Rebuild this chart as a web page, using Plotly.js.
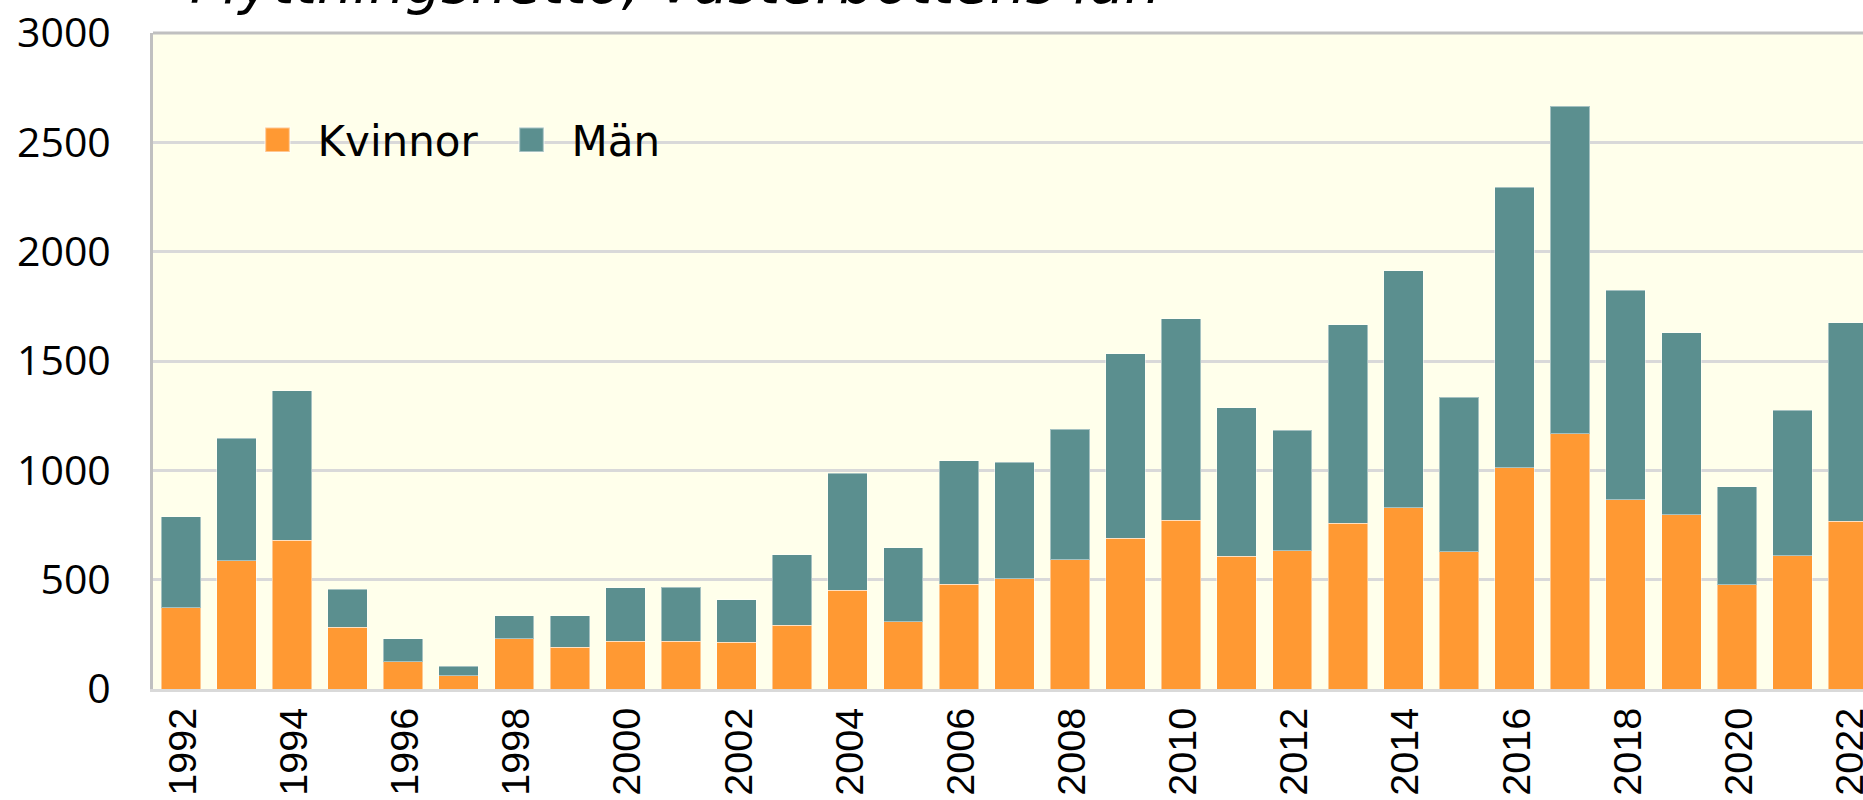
<!DOCTYPE html>
<html>
<head>
<meta charset="utf-8">
<script src="https://cdn.plot.ly/plotly-3.0.1.min.js"></script>
<style>
html,body{margin:0;padding:0;background:#fff;overflow:hidden;}
#chart{width:1863px;height:800px;}
</style>
</head>
<body>
<div id="chart"></div>
<script>
const years = [1992,1993,1994,1995,1996,1997,1998,1999,2000,2001,2002,2003,2004,2005,2006,2007,2008,2009,2010,2011,2012,2013,2014,2015,2016,2017,2018,2019,2020,2021,2022];
const kvinnor = [372,586,681,282,124,60,229,191,219,218,213,292,451,308,480,504,591,690,772,606,632,757,829,627,1012,1168,866,798,476,610,767];
const man = [415,561,683,174,105,44,107,145,243,248,196,321,536,337,563,533,598,843,922,680,551,909,1083,708,1282,1496,958,832,450,664,909];
const tickYears = [1992,1994,1996,1998,2000,2002,2004,2006,2008,2010,2012,2014,2016,2018,2020,2022];
const tickLabels = tickYears.map(String);
const seriesNames = ['Kvinnor','Män'];
const titleText = 'Flyttningsnetto, Västerbottens län';

const W = 1863, H = 800;
const mL = 153, mT = 33, mB = 111, mR = 0;
const PW = W - mL - mR, PH = H - mT - mB;
const bg = '#FFFFEB';
const labelShift = 0.04;

const traces = [
  {type:'bar', name:seriesNames[0], x:years, y:kvinnor,
   marker:{color:'#FF9933', line:{color:'rgba(255,255,255,0.45)', width:1}}},
  {type:'bar', name:seriesNames[1], x:years, y:man,
   marker:{color:'#5B8F8F', line:{color:'rgba(255,255,255,0.45)', width:1}}}
];

const layout = {
  width: W, height: H,
  margin:{l:mL, r:mR, t:mT, b:mB, pad:0},
  paper_bgcolor:'#FFFFFF',
  plot_bgcolor:bg,
  barmode:'stack',
  bargap:0.29,
  showlegend:true,
  title:{text:titleText, x:190/W, xanchor:'left', xref:'container',
         y:1-2.5/H, yanchor:'bottom', yref:'container', pad:{t:0,b:0,l:0,r:0},
         font:{family:'DejaVu Sans', size:57, style:'italic', color:'#000'}},
  legend:{orientation:'h', x:(237.5-mL)/PW, xanchor:'left',
          y:(689-140)/PH, yanchor:'middle',
          bgcolor:'rgba(0,0,0,0)', borderwidth:0, itemwidth:70,
          entrywidth:169, entrywidthmode:'pixels',
          font:{family:'DejaVu Sans', size:42, color:'#000'},
          traceorder:'normal', itemclick:false},
  xaxis:{range:[1991.5, 2022.27], tickvals:tickYears.map(function(v){return v+labelShift;}), ticktext:tickLabels,
         tickangle:-90, showgrid:false, zeroline:false,
         showline:true, linecolor:'#D9D9D9', linewidth:3,
         ticks:'', ticklabelstandoff:0, ticklabeloverflow:'allow',
         tickfont:{family:'Liberation Sans', size:39.5, color:'#000'}},
  yaxis:{range:[0,3000], dtick:500, tick0:0, showgrid:true,
         gridcolor:'#D9D9D9', gridwidth:3, zeroline:false,
         showline:true, linecolor:'#C0C0C0', linewidth:3,
         ticks:'', ticklabelstandoff:31,
         tickfont:{family:'Open Sans', size:41, color:'#000'}},
  shapes:[
    {type:'rect', xref:'paper', yref:'paper', layer:'between',
     x0:(228-mL)/PW, x1:(680-mL)/PW, y0:(689-165)/PH, y1:(689-115)/PH,
     line:{width:0}, fillcolor:bg},
    {type:'line', xref:'paper', yref:'paper', x0:0, x1:1, y0:1, y1:1,
     line:{color:'#C0C0C0', width:3}, layer:'above'}
  ]
};

Plotly.newPlot('chart', traces, layout, {displayModeBar:false, staticPlot:true}).then(function(gd){
  document.querySelectorAll('#chart .legend .legendpoints path').forEach(function(p){
    var t = p.getAttribute('transform') || '';
    p.setAttribute('transform', t + ' scale(2.05)');
  });
});
</script>
</body>
</html>
